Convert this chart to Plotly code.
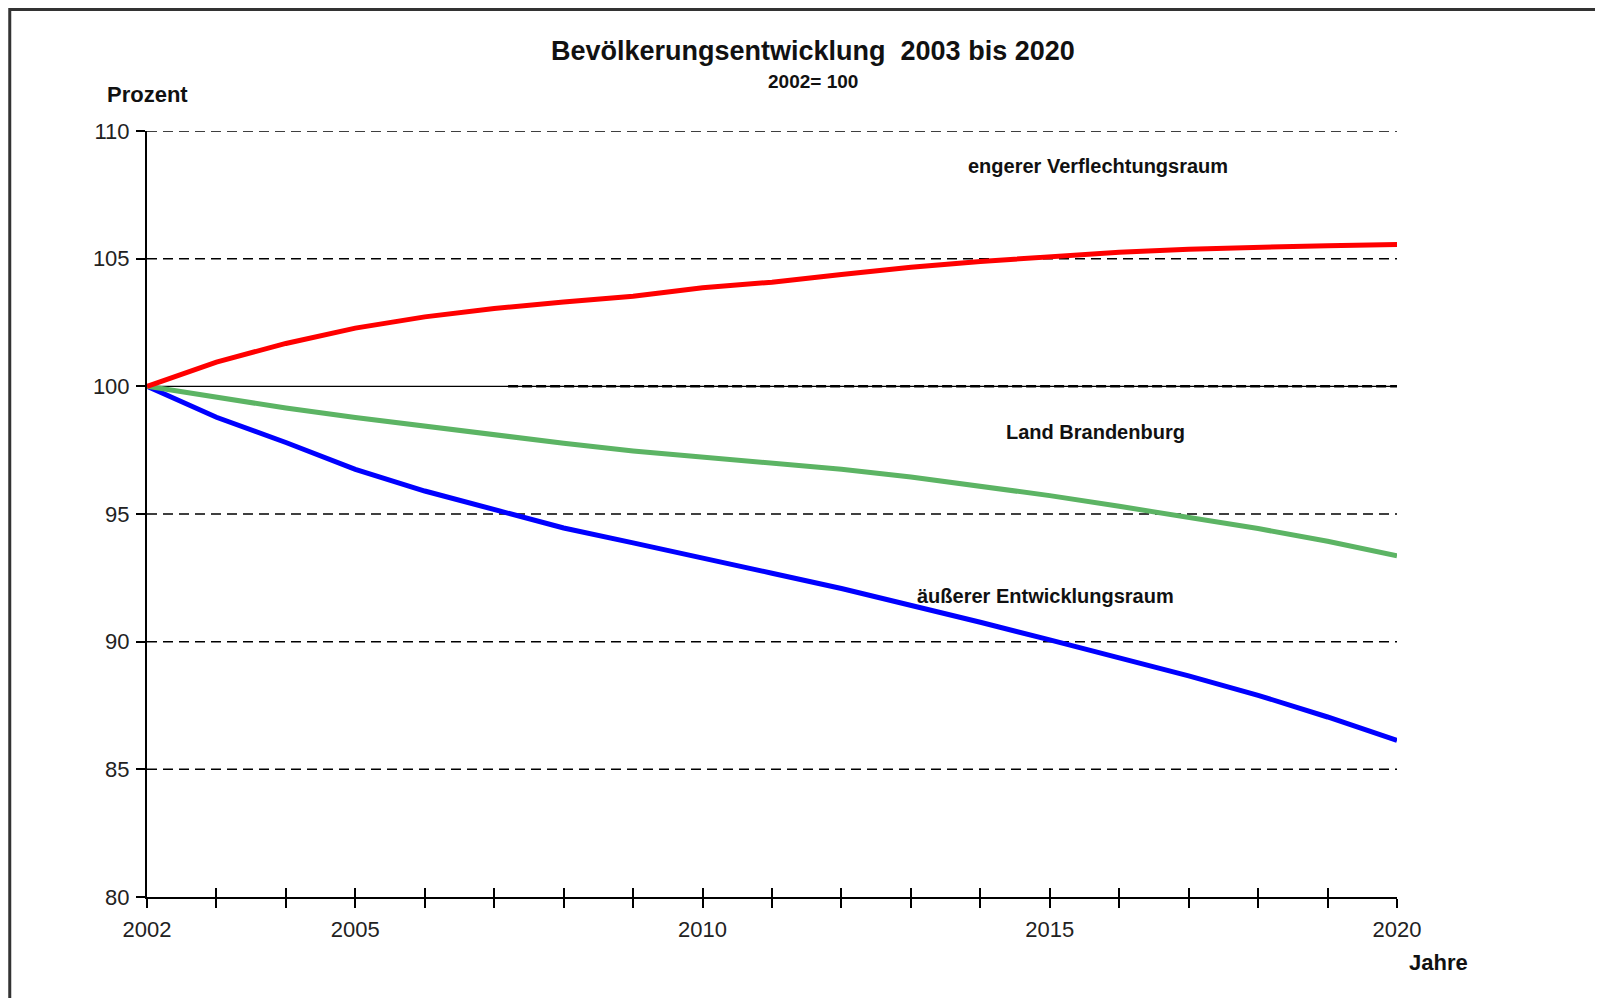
import plotly.graph_objects as go

years = list(range(2002, 2021))
engerer = [100, 100.95, 101.68, 102.28, 102.72, 103.05, 103.30, 103.53, 103.86, 104.08,
           104.38, 104.66, 104.89, 105.09, 105.25, 105.37, 105.46, 105.51, 105.55]
brandenburg = [100, 99.56, 99.15, 98.78, 98.43, 98.10, 97.77, 97.47, 97.22, 97.00,
               96.75, 96.45, 96.10, 95.72, 95.30, 94.88, 94.43, 93.93, 93.36]
aeusserer = [100, 98.79, 97.80, 96.75, 95.90, 95.16, 94.45, 93.87, 93.25, 92.68,
             92.08, 91.44, 90.76, 90.07, 89.38, 88.66, 87.90, 87.05, 86.13]

x_labels = {2002: "2002", 2005: "2005", 2010: "2010", 2015: "2015", 2020: "2020"}
y_ticks = [80, 85, 90, 95, 100, 105, 110]
grid_vals = [85, 90, 95, 105, 110]

FONT = "Liberation Sans, Arial, sans-serif"

fig = go.Figure()
fig.add_trace(go.Scatter(x=years, y=aeusserer, mode="lines",
                         line=dict(color="#0000ff", width=5), cliponaxis=False,
                         name="äußerer Entwicklungsraum"))
fig.add_trace(go.Scatter(x=years, y=brandenburg, mode="lines",
                         line=dict(color="#5cb464", width=5), cliponaxis=False,
                         name="Land Brandenburg"))
fig.add_trace(go.Scatter(x=years, y=engerer, mode="lines",
                         line=dict(color="#ff0000", width=5), cliponaxis=False,
                         name="engerer Verflechtungsraum"))
# invisible trace for overlay axis (crossing ticks)
fig.add_trace(go.Scatter(x=[2002, 2020], y=[80, 80], xaxis="x2", mode="lines",
                         line=dict(width=0), hoverinfo="skip", showlegend=False))

shapes = []
for g in grid_vals:
    shapes.append(dict(type="line", xref="x", yref="y", x0=2002, x1=2020, y0=g, y1=g,
                       line=dict(color="black", width=1.5, dash="10px,6px"), layer="below"))
# 100 reference line: solid thin across, dashed thicker part
shapes.append(dict(type="line", xref="x", yref="y", x0=2002, x1=2020, y0=100, y1=100,
                   line=dict(color="black", width=1.3), layer="below"))
shapes.append(dict(type="line", xref="x", yref="y", x0=2007.2, x1=2020, y0=100, y1=100,
                   line=dict(color="black", width=2.5, dash="10px,4px"), layer="below"))
# outer frame
shapes.append(dict(type="rect", xref="paper", yref="paper", x0=-0.1098, x1=1.3, y0=-0.3, y1=1.1585,
                   line=dict(color="#333333", width=3), fillcolor="rgba(0,0,0,0)"))

def ann(text, x, y, size, ref="paper"):
    return dict(text=text, xref=ref, yref=ref.replace("x", "y") if ref != "paper" else "paper",
                x=x, y=y, xanchor="center", yanchor="middle", showarrow=False,
                font=dict(size=size, color="#111", family=FONT))

annotations = [
    ann("<b>Bevölkerungsentwicklung  2003 bis 2020</b>", 0.533, 1.105, 27),
    ann("<b>2002= 100</b>", 0.533, 1.065, 19),
    ann("<b>Prozent</b>", 0.0, 1.048, 22),
    ann("<b>Jahre</b>", 1.033, -0.0855, 22),
    ann("<b>engerer Verflechtungsraum</b>", 2015.69, 108.64, 20, ref="x"),
    ann("<b>Land Brandenburg</b>", 2015.66, 98.23, 20, ref="x"),
    ann("<b>äußerer Entwicklungsraum</b>", 2014.94, 91.78, 20, ref="x"),
]

fig.update_layout(
    width=1603, height=998,
    margin=dict(l=139, r=214, t=123, b=109),
    paper_bgcolor="white", plot_bgcolor="white",
    showlegend=False,
    font=dict(family=FONT, size=22, color="#222"),
    shapes=shapes, annotations=annotations,
    xaxis=dict(range=[2002, 2020], tickvals=years,
               ticktext=[x_labels.get(y, "") for y in years],
               ticks="outside", ticklen=9, tickwidth=2, tickcolor="black",
               showline=True, linecolor="black", linewidth=2,
               showgrid=False, zeroline=False, ticklabelstandoff=3,
               tickfont=dict(size=22, color="#222")),
    xaxis2=dict(range=[2002, 2020], overlaying="x", anchor="y", side="bottom",
                tickvals=years, ticks="inside", ticklen=9, tickwidth=2, tickcolor="black",
                showticklabels=False, showgrid=False, zeroline=False, showline=False),
    yaxis=dict(range=[80, 110], tickvals=y_ticks, ticks="outside", ticklen=9,
               tickwidth=2, tickcolor="black",
               showline=True, linecolor="black", linewidth=2,
               showgrid=False, zeroline=False, ticklabelstandoff=2,
               tickfont=dict(size=22, color="#222")),
)

fig.write_html("out.html")
